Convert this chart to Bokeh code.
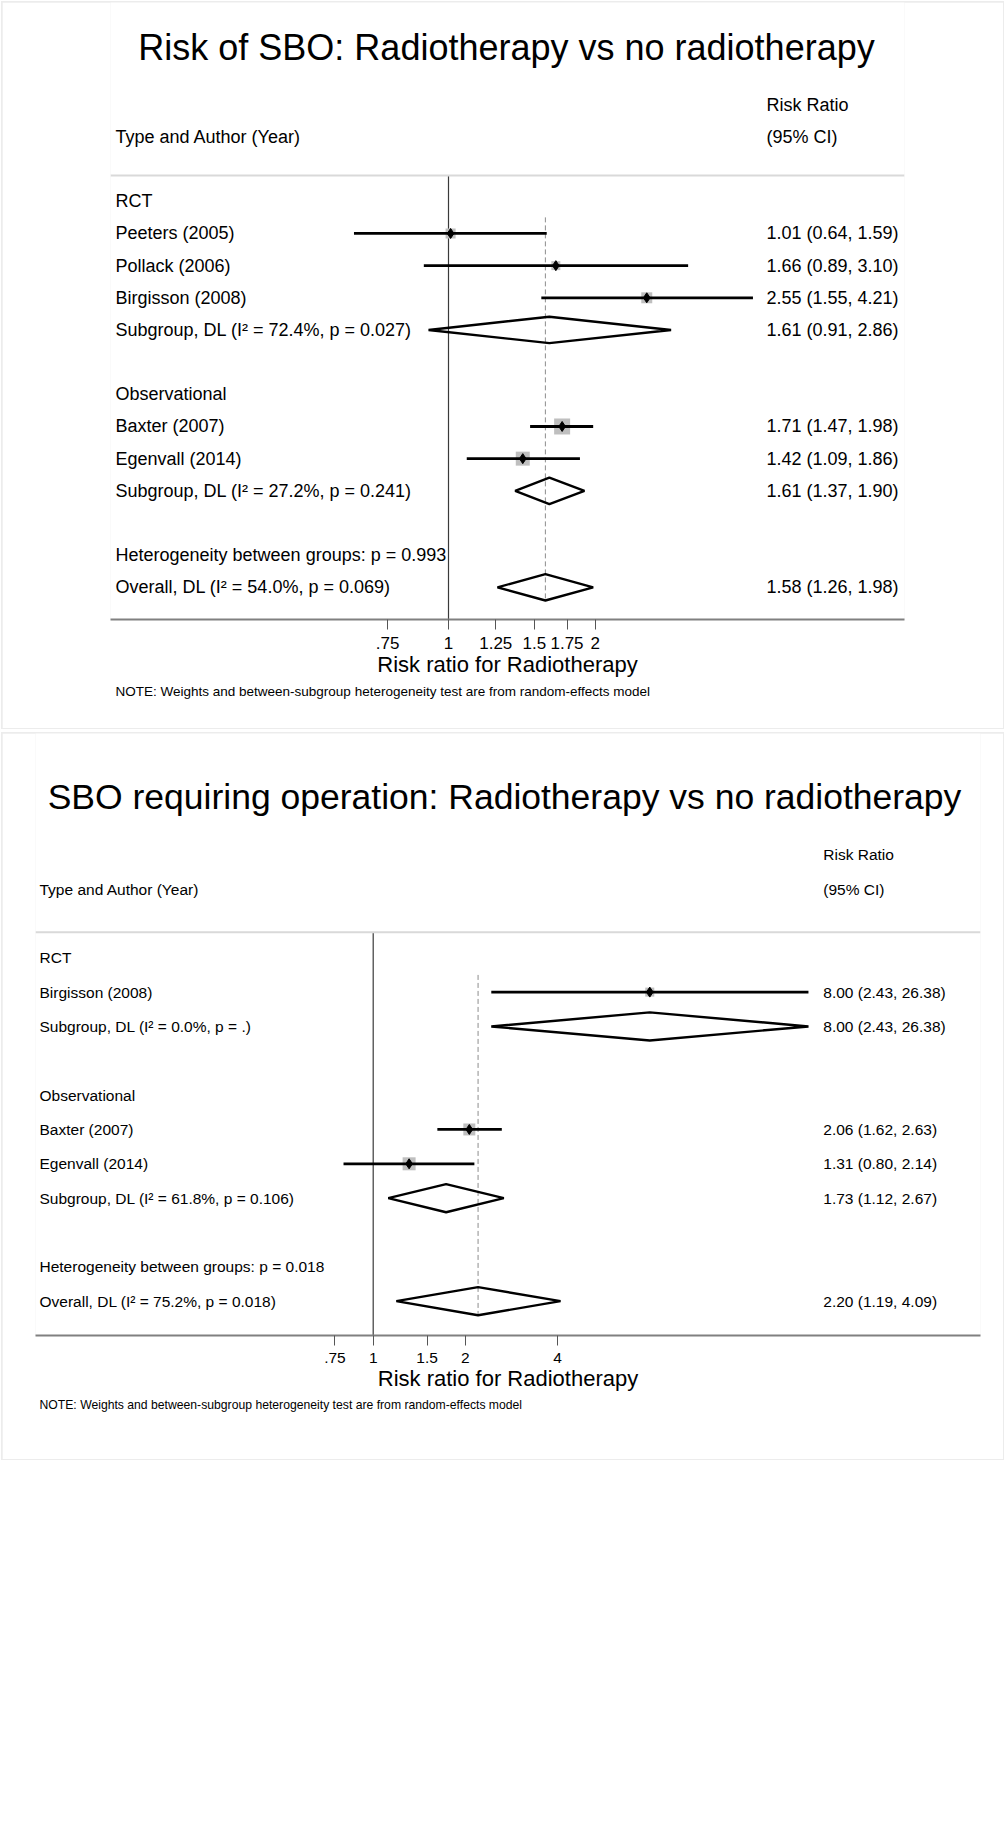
import numpy as np
from bokeh.plotting import figure
from bokeh.models import Range1d, FixedTicker, Span, Title
from bokeh.layouts import column
from bokeh.core.properties import value
from bokeh.embed import file_html
from bokeh.resources import INLINE

FONT = "Liberation Sans"

# ---------------- Panel 1 data ----------------
title1 = "Risk of SBO: Radiotherapy vs no radiotherapy"
labels1 = ["RCT", "Peeters (2005)", "Pollack (2006)", "Birgisson (2008)",
           "Subgroup, DL (I\u00b2 = 72.4%, p = 0.027)", "",
           "Observational", "Baxter (2007)", "Egenvall (2014)",
           "Subgroup, DL (I\u00b2 = 27.2%, p = 0.241)", "",
           "Heterogeneity between groups: p = 0.993",
           "Overall, DL (I\u00b2 = 54.0%, p = 0.069)"]
kinds1 = ["group", "study", "study", "study", "sub", "blank",
          "group", "study", "study", "sub", "blank", "het", "overall"]
est1 = [None, 1.01, 1.66, 2.55, 1.61, None, None, 1.71, 1.42, 1.61, None, None, 1.58]
lo1 = [None, 0.64, 0.89, 1.55, 0.91, None, None, 1.47, 1.09, 1.37, None, None, 1.26]
hi1 = [None, 1.59, 3.10, 4.21, 2.86, None, None, 1.98, 1.86, 1.90, None, None, 1.98]
wt1 = [None, 13.3, 10.7, 16.0, None, None, None, 34.0, 26.0, None, None, None, None]
ticks1 = [0.75, 1, 1.25, 1.5, 1.75, 2]
ticklabels1 = [".75", "1", "1.25", "1.5", "1.75", "2"]

# ---------------- Panel 2 data ----------------
title2 = "SBO requiring operation: Radiotherapy vs no radiotherapy"
labels2 = ["RCT", "Birgisson (2008)",
           "Subgroup, DL (I\u00b2 = 0.0%, p = .)", "",
           "Observational", "Baxter (2007)", "Egenvall (2014)",
           "Subgroup, DL (I\u00b2 = 61.8%, p = 0.106)", "",
           "Heterogeneity between groups: p = 0.018",
           "Overall, DL (I\u00b2 = 75.2%, p = 0.018)"]
kinds2 = ["group", "study", "sub", "blank", "group", "study", "study", "sub",
          "blank", "het", "overall"]
est2 = [None, 8.00, 8.00, None, None, 2.06, 1.31, 1.73, None, None, 2.20]
lo2 = [None, 2.43, 2.43, None, None, 1.62, 0.80, 1.12, None, None, 1.19]
hi2 = [None, 26.38, 26.38, None, None, 2.63, 2.14, 2.67, None, None, 4.09]
wt2 = [None, 20.6, None, None, None, 36.5, 42.9, None, None, None, None]
ticks2 = [0.75, 1, 1.5, 2, 4]
ticklabels2 = [".75", "1", "1.5", "2", "4"]

header_left = "Type and Author (Year)"
header_right1 = "Risk Ratio"
header_right2 = "(95% CI)"
xlabel = "Risk ratio for Radiotherapy"
note = "NOTE: Weights and between-subgroup heterogeneity test are from random-effects model"
NULL_VALUE = 1


def build(title, labels, kinds, est, lo, hi, wt, ticks, ticklabels, g):
    n = len(labels)
    W, H = g["W"], g["H"]
    fl, fr, fb = g["fl"], g["fr"], g["fb"]
    one, ppl, rowpx = g["one"], g["ppl"], g["rowpx"]

    def px2x(px):
        return float(np.exp((px - one) / ppl))

    frame_h = H - fb
    p = figure(width=W, height=H, output_backend="svg", toolbar_location=None,
               x_axis_type="log", y_axis_location=None,
               x_range=Range1d(px2x(fl), px2x(fr)),
               y_range=Range1d(n, n - frame_h / rowpx),
               min_border_left=fl, min_border_right=W - fr,
               min_border_top=0, min_border_bottom=fb)
    p.grid.visible = False
    p.outline_line_color = None
    p.background_fill_color = "white"
    p.border_fill_color = "white"

    fs = g["fs"]
    tf = value(FONT)
    xl, xr = px2x(g["tx_left"]), px2x(g["tx_right"])

    # title
    p.text(x=[px2x(g["title_cx"])], y=[g["title_row"]], text=[title],
           text_font=tf, text_font_size=g["title_fs"], text_align="center",
           text_baseline="middle", text_color="black")
    # headers
    p.text(x=[xl], y=[-2], text=[header_left], text_font=tf, text_font_size=fs,
           text_baseline="middle", text_color="black")
    p.text(x=[xr, xr], y=[-3, -2], text=[header_right1, header_right2], text_font=tf,
           text_font_size=fs, text_baseline="middle", text_color="black")

    # separator line
    p.add_layout(Span(location=g["sep"], dimension="width", line_color="#d9d9d9",
                      line_width=2))
    # null line
    p.segment(x0=[NULL_VALUE], y0=[g["sep"]], x1=[NULL_VALUE], y1=[n],
              line_color="#3a3a3a", line_width=1.2)
    # overall dashed line
    io = kinds.index("overall")
    h = 0.41
    p.segment(x0=[est[io]], y0=[0.5], x1=[est[io]], y1=[io + h],
              line_color="#8c8c8c", line_width=1, line_dash="5 3")

    rows = list(range(n))
    st = [i for i in rows if kinds[i] == "study"]
    sb = [i for i in rows if kinds[i] in ("sub", "overall")]

    # weight boxes
    p.scatter(x=[est[i] for i in st], y=st, marker="square",
              size=[g["k"] * np.sqrt(wt[i]) for i in st],
              fill_color="#bfbfbf", line_color=None)
    # CI lines
    p.segment(x0=[lo[i] for i in st], y0=st, x1=[hi[i] for i in st], y1=st,
              line_color="black", line_width=2.8)
    # point estimates
    p.scatter(x=[est[i] for i in st], y=st, marker="diamond", size=10,
              fill_color="black", line_color="black")
    # pooled diamonds
    p.patches(xs=[[lo[i], est[i], hi[i], est[i]] for i in sb],
              ys=[[i, i - h, i, i + h] for i in sb],
              fill_color=None, line_color="black", line_width=2.4)

    # left labels
    li = [i for i in rows if labels[i]]
    p.text(x=[xl] * len(li), y=li, text=[labels[i] for i in li], text_font=tf,
           text_font_size=fs, text_baseline="middle", text_color="black")
    # right values
    vi = [i for i in rows if est[i] is not None]
    p.text(x=[xr] * len(vi), y=vi,
           text=["%.2f (%.2f, %.2f)" % (est[i], lo[i], hi[i]) for i in vi],
           text_font=tf, text_font_size=fs, text_baseline="middle", text_color="black")

    ax = p.xaxis[0]
    ax.ticker = FixedTicker(ticks=ticks, minor_ticks=[])
    ax.major_label_overrides = {t: l for t, l in zip(ticks, ticklabels)}
    ax.axis_label = xlabel
    ax.axis_label_text_font = FONT
    ax.axis_label_text_font_size = "22px"
    ax.axis_label_text_font_style = "normal"
    ax.axis_label_text_color = "black"
    ax.axis_label_standoff = g["als"]
    ax.major_label_text_font = FONT
    ax.major_label_text_font_size = g["tick_fs"]
    ax.major_label_text_color = "black"
    ax.major_label_standoff = g["mls"]
    ax.axis_line_color = "#808080"
    ax.axis_line_width = 2
    ax.major_tick_line_color = "#555555"
    ax.major_tick_out = 10
    ax.major_tick_in = 0
    ax.minor_tick_out = 0
    ax.minor_tick_in = 0

    t = Title(text=note, align="left", offset=g["note_off"], text_font=FONT,
              text_font_size=g["note_fs"], text_font_style="normal",
              text_color="black", standoff=g["note_so"])
    p.add_layout(t, "below")
    return p


g1 = dict(W=1001, H=726, fl=108, fr=902, fb=109, one=446.0, ppl=211.8, rowpx=32.17,
          fs="18px", title_fs="36px", title_cx=504, title_row=-4.77, sep=-0.80,
          tx_left=113, tx_right=764, k=16 / np.sqrt(34.0), tick_fs="17px",
          mls=7, als=0, note_off=5, note_fs="13.5px", note_so=5)
g2 = dict(W=1001, H=726, fl=33, fr=978, fb=124, one=370.7, ppl=133.0, rowpx=34.34,
          fs="15.5px", title_fs="35.5px", title_cx=502, title_row=-4.67, sep=-0.74,
          tx_left=37, tx_right=820.8, k=13 / np.sqrt(42.9), tick_fs="15.5px",
          mls=7, als=0, note_off=4, note_fs="12.2px", note_so=5)

p1 = build(title1, labels1, kinds1, est1, lo1, hi1, wt1, ticks1, ticklabels1, g1)
p2 = build(title2, labels2, kinds2, est2, lo2, hi2, wt2, ticks2, ticklabels2, g2)

box1 = column(p1, styles={"background-color": "#ececec", "padding": "1px",
                          "margin": "1px 0 0 1px"})
box2 = column(p2, styles={"background-color": "#ececec", "padding": "1px",
                          "margin": "3px 0 0 1px"})

open("out.html", "w").write(file_html([box1, box2], INLINE))
